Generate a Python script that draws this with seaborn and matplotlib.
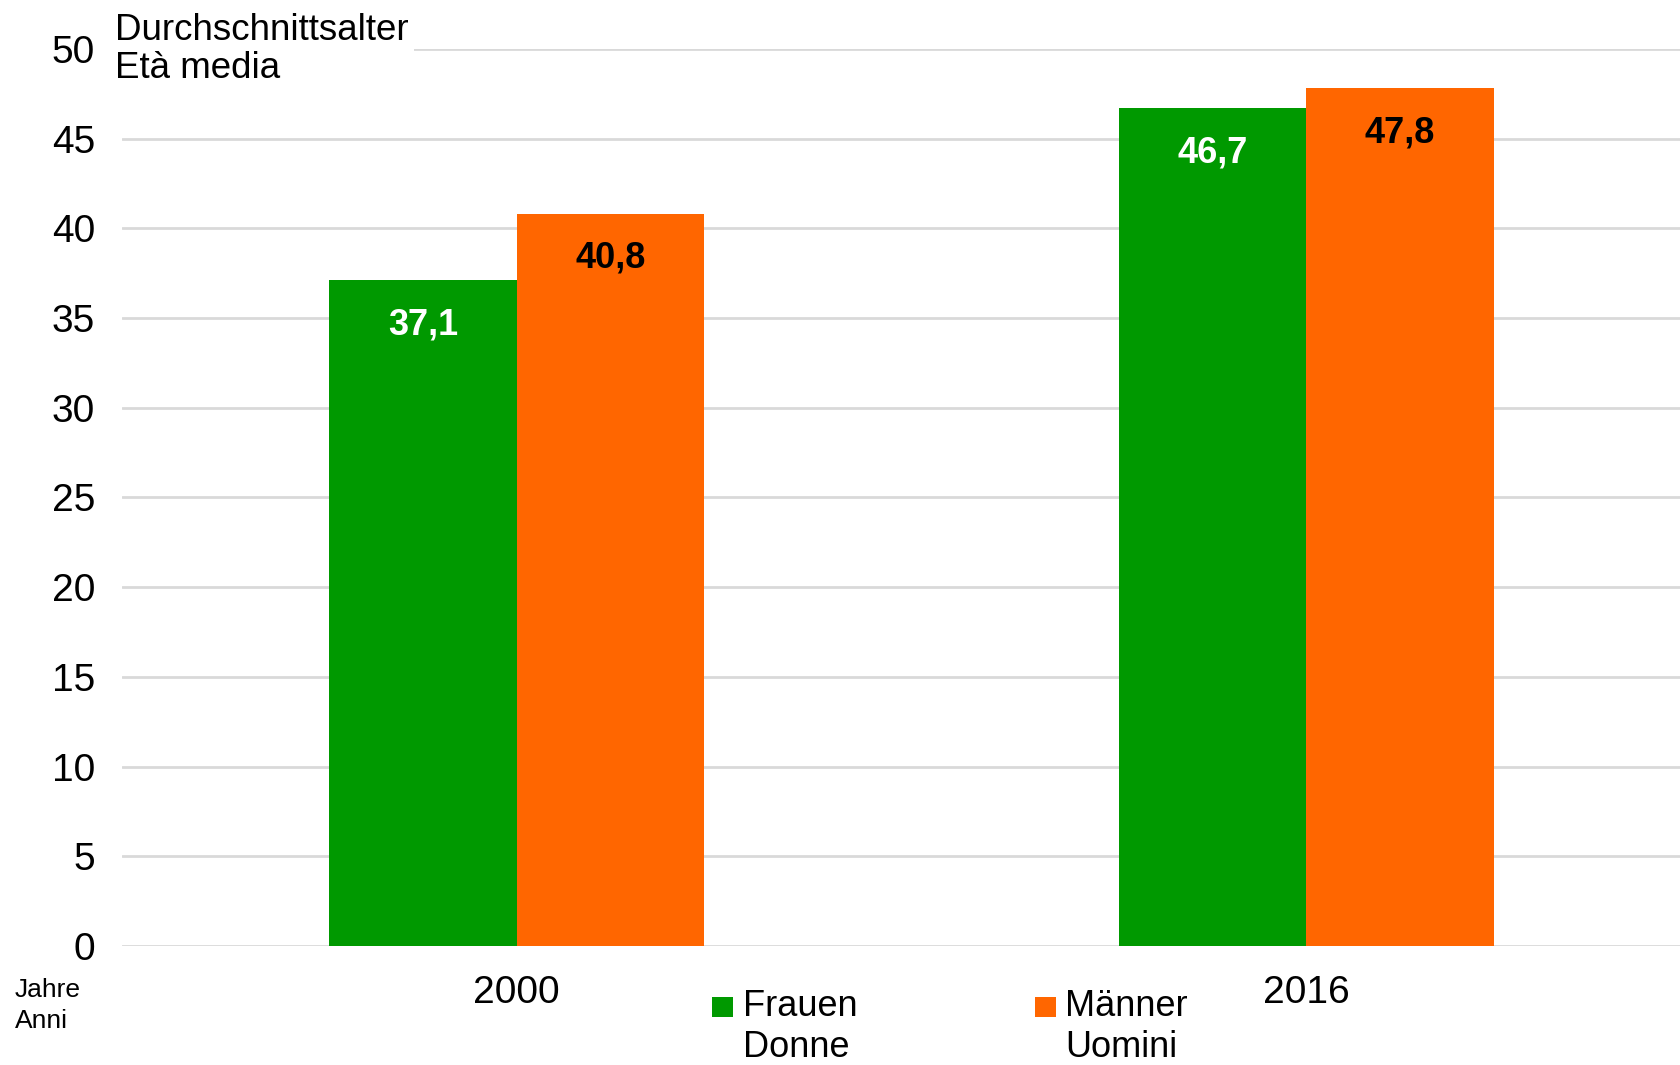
import pandas as pd
import seaborn as sns
import matplotlib.pyplot as plt
from matplotlib.patches import Rectangle
from matplotlib.legend_handler import HandlerPatch

# data
years = ["2000", "2016"]
frauen = [37.1, 46.7]
maenner = [40.8, 47.8]
series_names = ["Frauen\nDonne", "Männer\nUomini"]
series_colors = ["#009900", "#FF6600"]
label_colors = ["white", "black"]

df = pd.DataFrame({
    "year": years * 2,
    "value": frauen + maenner,
    "series": [series_names[0]] * len(years) + [series_names[1]] * len(years),
})

sns.set_theme(style="white")
plt.rcParams["font.family"] = ["Liberation Sans", "DejaVu Sans"]
plt.rcParams["text.color"] = "black"
plt.rcParams["xtick.color"] = "black"
plt.rcParams["ytick.color"] = "black"

fig = plt.figure(figsize=(16.81, 10.65), dpi=100)
ax = fig.add_axes([122 / 1681, 1 - 946 / 1065, 1 - 122 / 1681, (946 - 49) / 1065])

sns.barplot(data=df, x="year", y="value", hue="series", order=years,
            hue_order=series_names, palette=series_colors, saturation=1,
            width=0.475, errorbar=None, linewidth=0, ax=ax, legend=True)

ax.set_ylim(0, 50)
ax.set_xlim(-0.5, 1.475)
ax.set_yticks(range(0, 51, 5))
ax.yaxis.grid(True, color="#D9D9D9", linewidth=2)
ax.set_axisbelow(True)
for s in ax.spines.values():
    s.set_visible(False)
ax.tick_params(axis="y", length=0, pad=19.5, labelsize=28)
ax.tick_params(axis="x", length=0, pad=21, labelsize=28)
ax.set_xlabel("")
ax.set_ylabel("")

# value labels, inside the top of each bar
for cont, col in zip(ax.containers, label_colors):
    for bar in cont:
        h = bar.get_height()
        ax.annotate(f"{h:.1f}".replace(".", ","),
                    (bar.get_x() + bar.get_width() / 2, h),
                    xytext=(0, -32), textcoords="offset points",
                    ha="center", va="center", fontsize=26,
                    fontweight="bold", color=col)


# legend square sits on the first line of the two-line label
def top_square(legend, orig_handle, xdescent, ydescent, width, height, fontsize):
    return Rectangle((-xdescent, -ydescent + 0.58 * fontsize), width, height)


handles, labels = ax.get_legend_handles_labels()
ax.get_legend().remove()
fig.legend(handles, labels, loc="upper left", ncol=2,
           bbox_to_anchor=(698 / 1681, 1 - 975 / 1065), frameon=False,
           fontsize=26, handlelength=0.58, handleheight=0.5,
           handletextpad=0.27, columnspacing=4.9, borderaxespad=0,
           handler_map={h: HandlerPatch(patch_func=top_square) for h in handles})

fig.text(115 / 1681, 1 - 13 / 1065, "Durchschnittsalter\nEtà media",
         fontsize=26.5, va="top", ha="left", linespacing=1.1,
         bbox=dict(facecolor="white", edgecolor="none", pad=4))
fig.text(15 / 1681, 1 - 978 / 1065, "Jahre\nAnni", fontsize=19,
         va="top", ha="left", linespacing=1.35)

fig.savefig("out.png", dpi=100)
